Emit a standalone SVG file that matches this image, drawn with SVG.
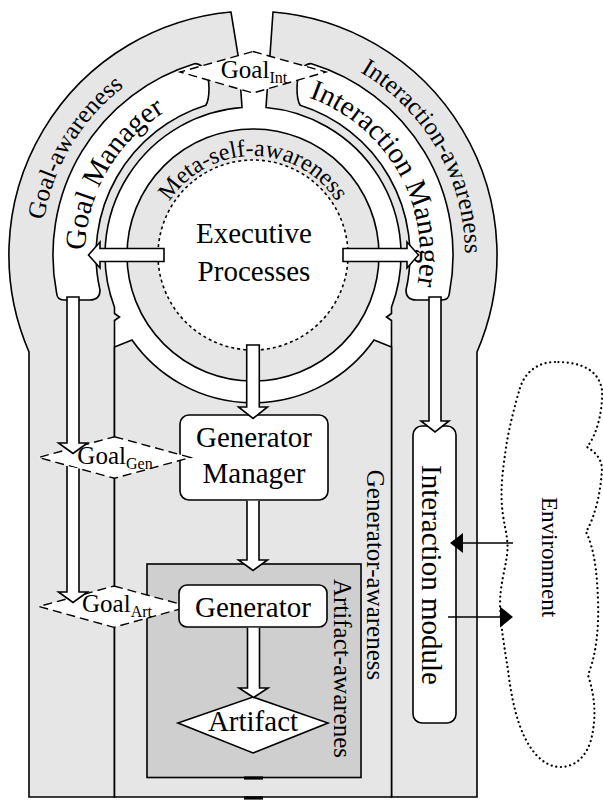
<svg xmlns="http://www.w3.org/2000/svg" width="603" height="800" viewBox="0 0 603 800" font-family="'Liberation Serif', 'DejaVu Serif', serif">
<defs>
<style>
.g{fill:#e6e6e6;stroke:#000;stroke-width:1.6}
.d{fill:#cfcfcf;stroke:#000;stroke-width:1.6}
.w{fill:#fff;stroke:#000;stroke-width:1.6}
.dash{fill:#fff;stroke:#000;stroke-width:1.4;stroke-dasharray:9 5}
.dot{fill:#fff;stroke:#000;stroke-width:1.6;stroke-dasharray:3 3}
.cloud{fill:none;stroke:#000;stroke-width:2.2;stroke-dasharray:0.1 4.6;stroke-linecap:round}
.ar{fill:#fff;stroke:#000;stroke-width:1.6}
.ln{fill:none;stroke:#000;stroke-width:1.5}
.hd{fill:#000}
.mk{stroke:#000;stroke-width:3.2}
text, tspan, textPath{font-family:'Liberation Serif', 'DejaVu Serif', serif;fill:#000}
.f29{font-size:29px}
.f25{font-size:25px}
.f24{font-size:24px}
.f23{font-size:23px}
.sub{font-size:16px}
</style>
<path id="p-goalaw" d="M 67.6,357.8 A 212 212 0 0 1 256.7,43.0"/>
<path id="p-intaw" d="M 253,43 A 212 212 0 0 1 436.6,361"/>
<path id="p-gm" d="M 107.5,339 A 168 168 0 0 1 253,87"/>
<path id="p-im" d="M 253,88 A 167 167 0 0 1 397.6,338.5"/>
<path id="p-meta" d="M 167.3,304.5 A 99 99 0 1 1 338.7,304.5"/>
</defs>
<rect width="603" height="800" fill="#fff"/>

<g id="goal-awareness">
<path class="g" d="M 29,797 L 29,352 A 244 244 0 0 1 231,12 L 238,55 L 241,93 L 242,107.5 A 148 148 0 0 0 114.5,307.2 L 114.5,313.5 L 119.5,317 L 114.5,320.5 L 114.5,797 Z"/>
<text class="f25"><textPath href="#p-goalaw" startOffset="50%" text-anchor="middle">Goal-awareness</textPath></text>
</g>

<g id="interaction-awareness">
<path class="g" d="M 477,797 L 477,352 A 244 244 0 0 0 273,12 L 270,55 L 267,93 L 266,107.5 A 148 148 0 0 1 391.5,307.2 L 391.5,313.5 L 386.5,317 L 391.5,320.5 L 391.5,797 Z"/>
<text class="f25"><textPath href="#p-intaw" startOffset="50%" text-anchor="middle">Interaction-awareness</textPath></text>
</g>

<g id="generator-awareness">
<path class="g" d="M 114.5,797 L 114.5,347 L 132,340 A 148 148 0 0 0 374,340 L 391.5,347 L 391.5,797 Z"/>
<text class="f25" transform="translate(367,575) rotate(90)" text-anchor="middle">Generator-awareness</text>
</g>

<g id="artifact-awareness">
<rect class="d" x="147" y="564" width="214" height="213.5"/>
<text class="f25" transform="translate(334,668.5) rotate(90)" text-anchor="middle">Artifact-awarenes</text>
</g>

<g id="meta-self-awareness">
<circle class="g" cx="253" cy="255" r="126"/>
<text class="f24"><textPath href="#p-meta" startOffset="50%" text-anchor="middle">Meta-self-awareness</textPath></text>
</g>

<g id="executive-processes">
<circle class="dot" cx="253" cy="255" r="95"/>
<text class="f29" x="254" y="243" text-anchor="middle">Executive</text>
<text class="f29" x="254" y="281" text-anchor="middle">Processes</text>
</g>

<g id="goal-manager">
<path class="w" d="M 56.6,293 A 200 200 0 0 1 194.5,63.7 C 203,63 209,75 209,88 C 209,97 208,102 205.8,105.3 A 157 157 0 0 0 100,290 Q 100,300 90,300 L 64,300 Q 57,300 56.6,293 Z"/>
<text class="f29"><textPath href="#p-gm" startOffset="50%" text-anchor="middle">Goal Manager</textPath></text>
</g>

<g id="interaction-manager">
<path class="w" d="M 449.4,293 A 200 200 0 0 0 311.5,63.7 C 303,63 297,75 297,88 C 297,97 298,102 300.2,105.3 A 157 157 0 0 1 406,290 Q 406,300 416,300 L 442,300 Q 449,300 449.4,293 Z"/>
<text class="f29"><textPath href="#p-im" startOffset="50%" text-anchor="middle">Interaction Manager</textPath></text>
</g>

<g id="goal-int">
<polygon class="dash" points="253,51.5 326,72 253,93 180,72"/>
<text class="f25" x="254" y="78" text-anchor="middle">Goal<tspan class="sub" dy="5">Int</tspan></text>
</g>

<g id="generator-manager">
<rect class="w" x="180" y="415" width="148" height="85" rx="9"/>
<text class="f29" x="254" y="447" text-anchor="middle">Generator</text>
<text class="f29" x="254" y="483" text-anchor="middle">Manager</text>
</g>

<g id="goal-gen">
<polygon class="dash" points="114.5,436.7 190.5,457.5 114.5,478.3 38.5,457.5"/>
<text class="f25" x="115" y="463.5" text-anchor="middle">Goal<tspan class="sub" dy="5">Gen</tspan></text>
</g>

<g id="goal-art">
<polygon class="dash" points="114,586 189,606.5 114,627.3 39,606.5"/>
<text class="f25" x="117" y="612" text-anchor="middle">Goal<tspan class="sub" dy="5">Art</tspan></text>
</g>

<g id="generator">
<rect class="w" x="179" y="585" width="148" height="42" rx="8"/>
<text class="f29" x="253" y="617" text-anchor="middle">Generator</text>
</g>

<g id="artifact">
<polygon class="w" points="178,723 253,697 328,723 253,753"/>
<text class="f29" x="253" y="731" text-anchor="middle">Artifact</text>
</g>

<g id="interaction-module">
<rect class="w" x="413" y="426" width="43" height="297" rx="9"/>
<text class="f29" transform="translate(422,575) rotate(90)" text-anchor="middle">Interaction module</text>
</g>

<g id="environment">
<path class="cloud" d="M 555,362 C 538,362 525,372 520,388 C 515,405 508,430 505,455 C 502,475 500,495 503,515 C 505,530 509,540 507,555 C 505,570 500,585 500,605 C 501,630 505,650 508,670 C 511,695 516,720 525,738 C 535,758 548,767 560,767 C 575,767 586,757 591,740 C 596,720 596,700 588,675 C 596,655 599,630 598,600 C 597,575 595,550 586,532 C 596,515 601,490 602,468 C 601,458 595,452 587,447 C 597,435 603,410 602,390 C 599,372 585,362 555,362 Z"/>
<text class="f23" transform="translate(542,557) rotate(90)" text-anchor="middle">Environment</text>
</g>

<g id="connectors">
<path class="ar" d="M 164,248.5 L 100,248.5 L 100,242 L 88.5,255 L 100,268 L 100,261.5 L 164,261.5 Z"/>
<path class="ar" d="M 343,248.5 L 407,248.5 L 407,242 L 418.5,255 L 407,268 L 407,261.5 L 343,261.5 Z"/>
<path class="ar" d="M 246.7,345 L 259.3,345 L 259.3,407 L 267.5,407 L 253,418.5 L 238.5,407 L 246.7,407 Z"/>
<path class="ar" d="M 67,297 L 79,297 L 79,443 L 87.5,443 L 73,453.5 L 58.5,443 L 67,443 Z"/>
<path class="ar" d="M 67,466 L 67,592 L 58.5,592 L 73,602.5 L 87.5,592 L 79,592 L 79,468.5"/>
<path class="ar" d="M 429,297 L 441,297 L 441,421 L 449,421 L 435,432 L 421,421 L 429,421 Z"/>
<path class="ar" d="M 247,500.8 L 247,560 L 238.5,560 L 253,570.5 L 267.5,560 L 259,560 L 259,500.8"/>
<path class="ar" d="M 247.5,627.8 L 247.5,688 L 239,688 L 253.5,697.5 L 268,688 L 259.5,688 L 259.5,627.8"/>
<line class="ln" x1="513" y1="543" x2="461" y2="543"/>
<polygon class="hd" points="450,543 463,533 463,553"/>
<line class="ln" x1="448" y1="617" x2="502" y2="617"/>
<polygon class="hd" points="513,617 500,606.5 500,627.5"/>
<line class="mk" x1="244" y1="778" x2="263" y2="778"/>
<line class="mk" x1="244" y1="798" x2="263" y2="798"/>
</g>
</svg>
